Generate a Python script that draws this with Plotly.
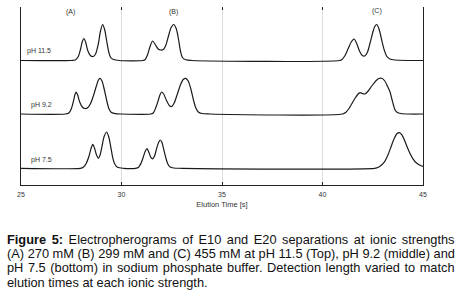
import plotly.graph_objects as go

# ---------------- data ----------------
ph_labels = ["pH 11.5", "pH 9.2", "pH 7.5"]
group_labels = ["(A)", "(B)", "(C)"]
x_ticks = [25, 30, 35, 40, 45]

# pH 11.5 trace: elution time [s] and signal above baseline
t_ph115 = [25.0, 27.5, 27.7, 27.85, 27.97, 28.05, 28.13, 28.22, 28.32, 28.45, 28.6, 28.72,
           28.85, 28.95, 29.06, 29.16, 29.26, 29.36, 29.46, 29.6, 29.9,
           31.05, 31.18, 31.3, 31.42, 31.55, 31.68, 31.82, 31.95, 32.08, 32.2, 32.33,
           32.47, 32.6, 32.72, 32.83, 32.93, 33.03, 33.2, 33.5,
           40.85, 40.97, 41.12, 41.28, 41.43, 41.57, 41.7, 41.85, 41.98, 42.1, 42.23,
           42.36, 42.5, 42.6, 42.7, 42.82, 42.95, 43.08, 43.2, 43.35, 43.6, 45.0]
s_ph115 = [0, 0, 0.5, 4, 12, 19, 22, 18, 10, 5, 4, 7,
           17, 29, 36, 31, 20, 9, 3, 1, 0,
           0, 1, 6, 14, 19.5, 16, 11.5, 10.5, 11, 15, 24,
           33, 36, 32, 22, 10, 3, 0.7, 0,
           0, 1, 5, 12, 18.5, 21.5, 17, 9, 5, 4.5, 8,
           17, 28, 34, 36, 31, 20, 10, 4, 1.5, 0.5, 0]

# pH 9.2 trace
t_ph92 = [25.0, 27.2, 27.38, 27.5, 27.6, 27.68, 27.74, 27.82, 27.92, 28.05, 28.18, 28.3,
          28.45, 28.6, 28.75, 28.85, 28.93, 29.03, 29.15, 29.27, 29.38, 29.5, 29.7, 30.0,
          31.45, 31.58, 31.7, 31.82, 31.92, 32.0, 32.1, 32.25, 32.4, 32.5, 32.62, 32.78,
          32.93, 33.07, 33.19, 33.32, 33.45, 33.58, 33.7, 33.82, 34.0, 34.4,
          41.0, 41.15, 41.3, 41.45, 41.6, 41.75, 41.87, 41.98, 42.1, 42.25, 42.45, 42.65,
          42.8, 42.94, 43.1, 43.25, 43.36, 43.45, 43.53, 43.61, 43.72, 43.9, 44.3, 45.0]
s_ph92 = [0, 0, 1, 5, 12, 19, 22, 19, 12, 7, 5.5, 6,
          10, 18, 28, 34, 35.7, 33, 24, 13, 5, 1.5, 0.3, 0,
          0, 1, 6, 13, 19.5, 22, 20, 13, 8, 7.5, 11, 20,
          29, 34.5, 35.7, 33, 25, 14, 6, 2, 0.5, 0,
          0, 1.5, 5, 10, 15, 19.5, 21.3, 20.5, 20, 22.5, 28, 33,
          35.5, 35.7, 33, 27, 22, 15, 9, 4, 1.5, 0.5, 0, 0]

# pH 7.5 trace
t_ph75 = [25.0, 27.95, 28.1, 28.25, 28.38, 28.48, 28.57, 28.66, 28.76, 28.85, 28.93, 29.03,
          29.14, 29.26, 29.37, 29.47, 29.57, 29.67, 29.8, 30.1,
          30.7, 30.85, 30.97, 31.08, 31.18, 31.27, 31.36, 31.46, 31.55, 31.64, 31.75,
          31.85, 31.92, 32.0, 32.1, 32.2, 32.3, 32.42, 32.6, 33.0,
          42.6, 42.78, 42.95, 43.1, 43.25, 43.4, 43.55, 43.7, 43.82, 43.95, 44.08,
          44.22, 44.35, 44.5, 44.69, 44.85, 45.0]
s_ph75 = [0, 0, 1, 5, 12, 19.5, 24, 20, 13, 10, 13, 22,
          32, 36.3, 31, 21, 10, 4, 1, 0,
          0, 1, 5, 11, 17, 19.7, 16, 11, 9.5, 12, 20,
          26, 28.3, 26.5, 19, 11, 4.5, 1.2, 0.3, 0,
          0, 1, 3.5, 7, 13, 21, 29, 34.5, 35.7, 33.5, 28,
          21, 15, 9.5, 5, 3, 2]

# ---------------- layout constants ----------------
W, H = 463, 296
PL, PR, PT, PB = 21, 423, 7, 185          # plot area in pixels
Y_RANGE = PB - PT                           # 1 y-unit == 1 pixel
baselines = [124.5, 71.0, 16.7]             # vertical stacking of traces
label_pos = [(25, 51), (29, 105), (29, 160)]
group_pos = [(70, 12), (173, 12), (377, 11)]

FONT = "Arial, Liberation Sans, sans-serif"


def px_x(x):
    return (x - PL) / (PR - PL)


def px_y(y):
    return (PB - y) / (PB - PT)


fig = go.Figure()
for t, s, b in zip([t_ph115, t_ph92, t_ph75], [s_ph115, s_ph92, s_ph75], baselines):
    fig.add_trace(go.Scatter(
        x=t, y=[b + v for v in s], mode="lines",
        line=dict(color="#1a1a1a", width=1.2, shape="spline", smoothing=0.8),
        hoverinfo="skip", showlegend=False))

# invisible trace carrying the top axis (tick marks only)
fig.add_trace(go.Scatter(x=[25, 45], y=[0, 0], xaxis="x2", mode="lines",
                         line=dict(width=0), hoverinfo="skip", showlegend=False))

annotations = []
for txt, (x, y) in zip(ph_labels, label_pos):
    annotations.append(dict(text=txt, xref="paper", yref="paper", x=px_x(x), y=px_y(y),
                            xanchor="left", yanchor="middle", showarrow=False,
                            font=dict(family=FONT, size=7, color="#333")))
for txt, (x, y) in zip(group_labels, group_pos):
    annotations.append(dict(text=txt, xref="paper", yref="paper", x=px_x(x), y=px_y(y),
                            xanchor="center", yanchor="middle", showarrow=False,
                            font=dict(family=FONT, size=7, color="#333")))

caption_lines = [
    "<b>Figure 5:</b> Electropherograms of E10 and E20 separations at ionic strengths",
    "(A) 270 mM (B) 299 mM and (C) 455 mM at pH 11.5 (Top), pH 9.2 (middle) and",
    "pH 7.5 (bottom) in sodium phosphate buffer. Detection length varied to match",
    "elution times at each ionic strength.",
]
caption_y = [239, 253, 267.5, 282]
word_gap = [2.0, 0.05, 1.0, 0]   # extra word spacing to mimic justified text
for txt, y, g in zip(caption_lines, caption_y, word_gap):
    if g:
        txt = '<span style="word-spacing:%.2fpx">%s</span>' % (g, txt)
    annotations.append(dict(text=txt, xref="paper", yref="paper", x=px_x(5), y=px_y(y),
                            xanchor="left", yanchor="middle", showarrow=False,
                            font=dict(family=FONT, size=12.8, color="#111")))

fig.update_layout(
    width=W, height=H,
    margin=dict(l=PL, r=W - PR, t=PT, b=H - PB, pad=0),
    paper_bgcolor="white", plot_bgcolor="white",
    showlegend=False,
    xaxis=dict(range=[25, 45], tickvals=x_ticks, ticktext=[str(v) for v in x_ticks],
               ticks="inside", ticklen=3, tickcolor="#222", showline=True,
               linecolor="#222", linewidth=1, showgrid=True, gridcolor="#dcdcdc",
               gridwidth=1, zeroline=False, ticklabelstandoff=3, automargin=False,
               tickfont=dict(family=FONT, size=7, color="#333"),
               title=dict(text="Elution Time [s]", standoff=4,
                          font=dict(family=FONT, size=7.5, color="#333"))),
    xaxis2=dict(range=[25, 45], overlaying="x", side="top", anchor="y",
                tickvals=[30, 35, 40], ticks="inside", ticklen=3, tickcolor="#222",
                showline=False, showticklabels=False, showgrid=False, zeroline=False),
    yaxis=dict(range=[0, Y_RANGE], showline=True, linecolor="#222", linewidth=1,
               mirror=True, showticklabels=False, ticks="", showgrid=False,
               zeroline=False, automargin=False),
    annotations=annotations,
)

fig.write_html("out.html", config={"displayModeBar": False},
               post_script="document.body.style.margin='0';document.body.style.padding='0';")
